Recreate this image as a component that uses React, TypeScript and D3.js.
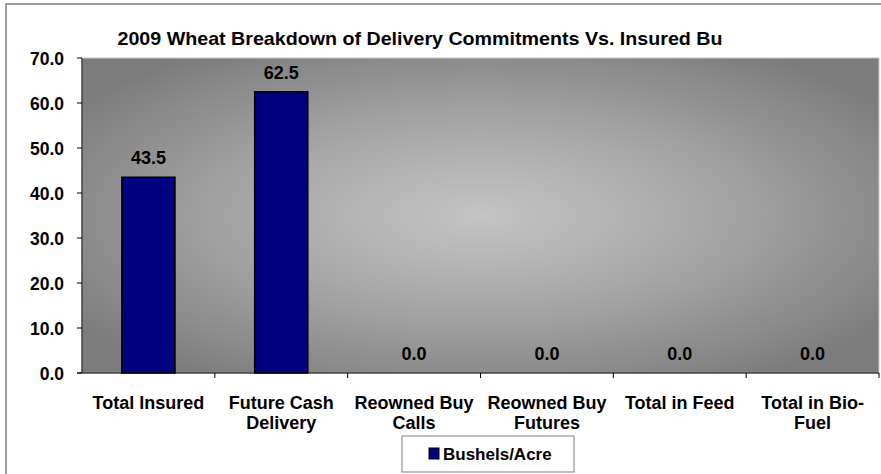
import React from "react";
import * as d3 from "d3";

const categories: string[][] = [
  ["Total Insured"],
  ["Future Cash", "Delivery"],
  ["Reowned Buy", "Calls"],
  ["Reowned Buy", "Futures"],
  ["Total in Feed"],
  ["Total in Bio-", "Fuel"],
];
const values: number[] = [43.5, 62.5, 0, 0, 0, 0];
const yTicks: number[] = [0, 10, 20, 30, 40, 50, 60, 70];
const seriesName = "Bushels/Acre";
const title = "2009 Wheat Breakdown of Delivery Commitments Vs. Insured Bu";

const W = 881;
const H = 474;
const plot = { left: 82, right: 879, top: 58, bottom: 373 };
const FONT = "'Liberation Sans', Arial, sans-serif";

export default function App() {
  const idx = categories.map((_, i) => String(i));
  const x = d3.scaleBand<string>().domain(idx).range([plot.left, plot.right]).paddingInner(0.6).paddingOuter(0.3);
  const xOuter = d3.scaleBand<string>().domain(idx).range([plot.left, plot.right]);
  const y = d3.scaleLinear().domain([0, 70]).range([plot.bottom, plot.top]);
  const pw = plot.right - plot.left;
  const ph = plot.bottom - plot.top;

  return (
    <svg width={W} height={H} style={{ position: "absolute", left: 0, top: 0, display: "block" }} fontFamily={FONT}>
      <defs>
        <radialGradient id="bg" cx="0.5" cy="0.5" r="0.62" gradientUnits="objectBoundingBox">
          <stop offset="0" stopColor="#c4c4c4" />
          <stop offset="0.45" stopColor="#a8a8a8" />
          <stop offset="1" stopColor="#7c7c7c" />
        </radialGradient>
      </defs>
      <rect x={0} y={0} width={W} height={H} fill="#ffffff" />
      <rect x={6} y={4} width={W + 20} height={H + 20} fill="#ffffff" stroke="#808080" strokeWidth={1.5} />
      <text x={420} y={45} textAnchor="middle" fontSize={19} fontWeight="bold" textLength={605} lengthAdjust="spacingAndGlyphs">
        {title}
      </text>
      <rect x={plot.left} y={plot.top} width={pw} height={ph} fill="url(#bg)" stroke="#c8c8c8" strokeWidth={1} />
      {/* y axis */}
      <line x1={plot.left} x2={plot.left} y1={plot.top} y2={plot.bottom} stroke="#000" strokeWidth={1} />
      {yTicks.map((t) => (
        <g key={t}>
          <line x1={plot.left - 5} x2={plot.left} y1={y(t)} y2={y(t)} stroke="#000" />
          <text x={64} y={y(t) + 6.5} textAnchor="end" fontSize={17.5} fontWeight="bold">
            {t.toFixed(1)}
          </text>
        </g>
      ))}
      {/* bars */}
      {values.map((v, i) => (
        <g key={i}>
          {v > 0 && (
            <rect
              x={x(String(i))!}
              y={y(v)}
              width={x.bandwidth()}
              height={y(0) - y(v)}
              fill="#000080"
              stroke="#000"
              strokeWidth={1.5}
            />
          )}
          <text
            x={x(String(i))! + x.bandwidth() / 2}
            y={y(v) - 13}
            textAnchor="middle"
            fontSize={18}
            fontWeight="bold"
          >
            {v.toFixed(1)}
          </text>
        </g>
      ))}
      {/* x axis */}
      <line x1={plot.left - 5} x2={plot.right} y1={plot.bottom} y2={plot.bottom} stroke="#000" strokeWidth={1.2} />
      {idx.map((d, i) => (
        <line
          key={"t" + i}
          x1={xOuter(d)! + xOuter.bandwidth()}
          x2={xOuter(d)! + xOuter.bandwidth()}
          y1={plot.bottom}
          y2={plot.bottom + 5}
          stroke="#000"
        />
      ))}
      {categories.map((lines, i) => (
        <text
          key={"c" + i}
          x={xOuter(String(i))! + xOuter.bandwidth() / 2}
          y={409}
          textAnchor="middle"
          fontSize={18}
          fontWeight="bold"
        >
          {lines.map((l, j) => (
            <tspan key={j} x={xOuter(String(i))! + xOuter.bandwidth() / 2} dy={j === 0 ? 0 : 20}>
              {l}
            </tspan>
          ))}
        </text>
      ))}
      {/* legend */}
      <rect x={402} y={436} width={172} height={36} fill="#fff" stroke="#808080" strokeWidth={1} />
      <rect x={429} y={448} width={10} height={11} fill="#000080" stroke="#000" strokeWidth={1} />
      <text x={443} y={460} fontSize={17} fontWeight="bold">
        {seriesName}
      </text>
    </svg>
  );
}
